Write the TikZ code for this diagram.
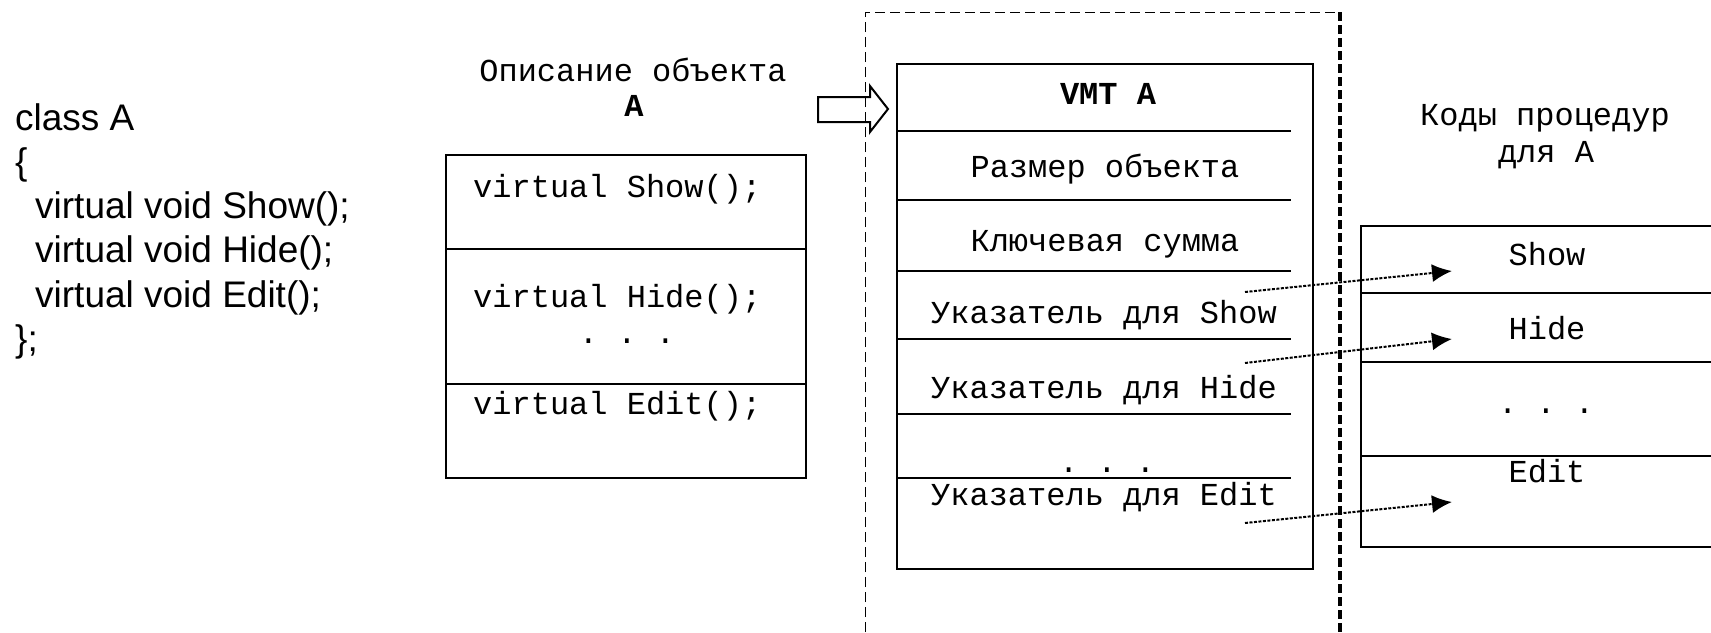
\documentclass[tikz,border=0pt]{standalone}
\usepackage{fontspec}
\setmainfont{Liberation Sans}
\setmonofont{Liberation Mono}
\usepackage{tikz}
\usetikzlibrary{arrows.meta, positioning}

\begin{document}
\begin{tikzpicture}[
    x=1pt, y=-1pt,
    code/.style={anchor=base west, inner sep=0pt, font=\fontsize{37}{44}\selectfont},
    mono/.style={anchor=base, inner sep=0pt, font=\ttfamily\fontsize{32}{36}\selectfont},
    monoleft/.style={mono, anchor=base west},
    box/.style={line width=2.8pt},
    frame/.style={line width=1pt, dash pattern=on 10pt off 5pt},
    border/.style={line width=3.5pt, dash pattern=on 9pt off 4pt},
    ptr/.style={-{Latex[length=20pt, width=18pt]}, line width=2pt, dash pattern=on 3pt off 1.5pt}
]
\useasboundingbox (0,0) rectangle (1711,632);

% Class declaration
\node[code] (cls) at (15,130) {class A};
\node[code] (open) at (15,174) {\{};
\node[code] (mshow) at (35,218) {virtual void Show();};
\node[code] (mhide) at (35,262) {virtual void Hide();};
\node[code] (medit) at (35,307) {virtual void Edit();};
\node[code] (close) at (15,351) {\};};

% Object description
\node[mono] (desc) at (633,81) {Описание объекта};
\node[mono] (descA) at (634,116) {\textbf{A}};
\draw[box] (446,155) rectangle (806,478);
\draw[box] (446,249) -- (806,249);
\draw[box] (446,384) -- (806,384);
\node[monoleft] (vshow) at (473,197) {virtual Show();};
\node[monoleft] (vhide) at (473,307) {virtual Hide();};
\node[mono] (vdots) at (627,343) {. . .};
\node[monoleft] (vedit) at (473,414) {virtual Edit();};

% Hollow arrow
\draw[line width=2pt, line join=miter]
    (818,97) -- (870,97) -- (870,86) -- (888,109) -- (870,132) -- (870,122) -- (818,122) -- cycle;

% Dashed frame
\draw[frame] (865,632) -- (865,12) -- (1340,12);
\draw[border] (1340,12) -- (1340,632);

% VMT
\draw[box] (897,64) rectangle (1313,569);
\foreach \y in {131,200,271,339,414,478}
    \draw[box] (897,\y) -- (1291,\y);
\node[mono] (vmt) at (1108,104) {\textbf{VMT A}};
\node[mono] (size) at (1105,177) {Размер объекта};
\node[mono] (key) at (1105,251) {Ключевая сумма};
\node[mono] (pshow) at (1104,323) {Указатель для Show};
\node[mono] (phide) at (1104,398) {Указатель для Hide};
\node[mono] (pdots) at (1107,472) {. . .};
\node[mono] (pedit) at (1104,505) {Указатель для Edit};

% Procedure codes
\node[mono] (codes) at (1545,125) {Коды процедур};
\node[mono] (codesA) at (1546,162) {для A};
\draw[box] (1711,226) -- (1361,226) -- (1361,547) -- (1711,547);
\foreach \y in {293,362,456}
    \draw[box] (1361,\y) -- (1711,\y);
\node[mono] (cshow) at (1547,265) {Show};
\node[mono] (chide) at (1547,339) {Hide};
\node[mono] (cdots) at (1546,413) {. . .};
\node[mono] (cedit) at (1547,482) {Edit};

% Pointers
\coordinate (fromshow) at (1245,292);
\coordinate (fromhide) at (1245,363);
\coordinate (fromedit) at (1245,523);
\coordinate (toshow) at (1452,271);
\coordinate (tohide) at (1452,339);
\coordinate (toedit) at (1452,502);
\draw[ptr] (fromshow) -- (toshow);
\draw[ptr] (fromhide) -- (tohide);
\draw[ptr] (fromedit) -- (toedit);

\end{tikzpicture}
\end{document}
